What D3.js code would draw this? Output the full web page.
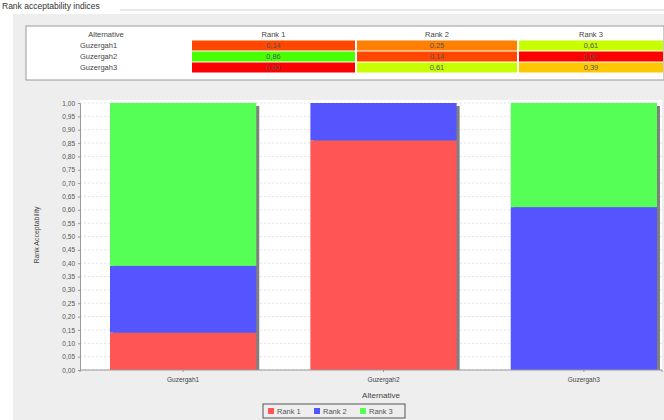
<!DOCTYPE html>
<html>
  <head>
    <meta charset="utf-8">
    <style>
      body { margin: 0; background: #ffffff; }
      svg { display: block; font-family: "Liberation Sans", Arial, sans-serif; }
    </style>
  </head>
  <body>
    <script src="https://d3js.org/d3.v7.min.js"></script>
    <script type="text/javascript">
      const width = 664;
      const height = 420;

      // data
      const alternatives = ['Guzergah1', 'Guzergah2', 'Guzergah3'];
      const rankKeys = ['Rank 1', 'Rank 2', 'Rank 3'];
      const rank1 = [0.14, 0.86, 0.00];
      const rank2 = [0.25, 0.14, 0.61];
      const rank3 = [0.61, 0.00, 0.39];
      const yTicks = d3.range(0, 21).map((i) => i * 0.05);

      const rows = alternatives.map((a, i) => ({
        alt: a, 'Rank 1': rank1[i], 'Rank 2': rank2[i], 'Rank 3': rank3[i]
      }));
      const fmt = (v) => v.toFixed(2).replace('.', ',');

      const svg = d3.select('body').append('svg')
        .attr('width', width)
        .attr('height', height);

      // panel background
      svg.append('rect').attr('x', 13).attr('y', 14).attr('width', width - 13).attr('height', height - 14)
        .attr('fill', '#eeeeee');
      svg.append('line').attr('x1', 120).attr('x2', width).attr('y1', 10).attr('y2', 10)
        .attr('stroke', '#d0d0d0');
      svg.append('text').attr('x', 2).attr('y', 9).attr('font-size', 8.5).attr('fill', '#333')
        .text('Rank acceptability indices');

      // ---- table ----
      const tableTop = 27;
      const headerH = 13;
      const rowH = 11;
      const colEdges = [27, 191, 356, 518, 664];
      const heat = d3.scaleLinear().domain([0, 0.5, 1]).range(['#ff0000', '#ffff00', '#00ff00']);

      svg.append('rect').attr('x', 26).attr('y', 26).attr('width', width - 26).attr('height', 54)
        .attr('fill', '#ffffff').attr('stroke', '#999');

      const headers = ['Alternative'].concat(rankKeys);
      headers.forEach((h, j) => {
        svg.append('text')
          .attr('x', (colEdges[j] + colEdges[j + 1]) / 2 - (j === 0 ? 3 : 0))
          .attr('y', tableTop + 10)
          .attr('text-anchor', 'middle')
          .attr('font-size', 7.5)
          .attr('fill', '#444')
          .text(h);
      });

      rows.forEach((r, i) => {
        const y = tableTop + headerH + i * rowH;
        svg.append('text')
          .attr('x', 80).attr('y', y + 8)
          .attr('font-size', 7.5).attr('fill', '#444')
          .text(r.alt);
        rankKeys.forEach((k, j) => {
          const x0 = colEdges[j + 1];
          const x1 = colEdges[j + 2];
          svg.append('rect')
            .attr('x', x0 + 1).attr('y', y + 0.5)
            .attr('width', x1 - x0 - 2).attr('height', rowH - 1)
            .attr('fill', heat(r[k]));
          svg.append('text')
            .attr('x', (x0 + x1) / 2).attr('y', y + 8)
            .attr('text-anchor', 'middle')
            .attr('font-size', 7.5).attr('fill', '#555')
            .text(fmt(r[k]));
        });
      });

      // ---- chart ----
      const plot = { left: 80, right: 662, top: 100, bottom: 370 };
      const x = d3.scaleBand().domain(alternatives).range([110, 657])
        .paddingInner(0.27).paddingOuter(0);
      const y = d3.scaleLinear().domain([0, 1]).range([plot.bottom, plot.top + 3]);
      const colors = d3.scaleOrdinal().domain(rankKeys).range(['#ff5555', '#5555ff', '#55ff55']);

      svg.append('rect').attr('x', plot.left).attr('y', plot.top)
        .attr('width', plot.right - plot.left).attr('height', plot.bottom - plot.top)
        .attr('fill', '#ffffff');

      // gridlines
      svg.append('g').selectAll('line').data(yTicks).enter().append('line')
        .attr('x1', plot.left).attr('x2', plot.right)
        .attr('y1', (d) => y(d)).attr('y2', (d) => y(d))
        .attr('stroke', '#e4e4e4').attr('stroke-dasharray', '2,2');

      const series = d3.stack().keys(rankKeys)(rows);

      // shadows
      svg.append('g').selectAll('rect').data(alternatives).enter().append('rect')
        .attr('x', (d) => x(d) + 3)
        .attr('y', y(1) + 3)
        .attr('width', x.bandwidth())
        .attr('height', y(0) - y(1) - 3)
        .attr('fill', '#808080');

      svg.append('g').selectAll('g').data(series).enter().append('g')
        .attr('fill', (d) => colors(d.key))
        .selectAll('rect').data((d) => d).enter().append('rect')
        .attr('x', (d) => x(d.data.alt))
        .attr('y', (d) => y(d[1]))
        .attr('width', x.bandwidth())
        .attr('height', (d) => y(d[0]) - y(d[1]));

      // y axis
      const yAxis = svg.append('g').attr('transform', `translate(${plot.left},0)`)
        .call(d3.axisLeft(y).tickValues(yTicks).tickFormat(fmt).tickSize(2));
      yAxis.selectAll('text').attr('font-size', 6.5).attr('fill', '#555');
      yAxis.selectAll('line').attr('stroke', '#999');
      yAxis.select('.domain').attr('stroke', '#999');

      // x axis
      const xAxis = svg.append('g').attr('transform', `translate(0,${plot.bottom})`)
        .call(d3.axisBottom(x).tickSize(2));
      xAxis.selectAll('text').attr('font-size', 6.5).attr('fill', '#444').attr('dy', '1.1em');
      xAxis.selectAll('line').attr('stroke', '#999');
      xAxis.select('.domain').attr('stroke', '#999')
        .attr('d', `M${plot.left},2V0H${plot.right}V2`);

      svg.append('text').attr('x', (plot.left + plot.right) / 2 + 10).attr('y', 398)
        .attr('text-anchor', 'middle').attr('font-size', 8).attr('fill', '#444')
        .text('Alternative');

      svg.append('text')
        .attr('transform', `translate(39,${(plot.top + plot.bottom) / 2}) rotate(-90)`)
        .attr('text-anchor', 'middle').attr('font-size', 7).attr('fill', '#444')
        .text('Rank Acceptability');

      // legend
      const legend = svg.append('g');
      legend.append('rect').attr('x', 263).attr('y', 404).attr('width', 142).attr('height', 14)
        .attr('fill', '#eeeeee').attr('stroke', '#555');
      const items = legend.selectAll('g').data(rankKeys).enter().append('g')
        .attr('transform', (d, i) => `translate(${268 + i * 46},411)`);
      items.append('rect').attr('x', 0).attr('y', -3).attr('width', 6).attr('height', 6)
        .attr('fill', (d) => colors(d));
      items.append('text').attr('x', 9).attr('y', 3).attr('font-size', 7.5).attr('fill', '#555')
        .text((d) => d);
    </script>
  </body>
</html>
